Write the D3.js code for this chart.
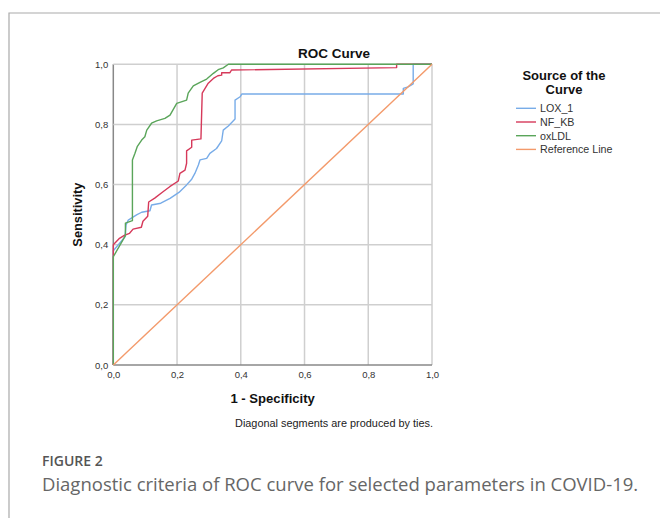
<!DOCTYPE html>
<html><head><meta charset="utf-8">
<script src="https://cdn.jsdelivr.net/npm/d3@7/dist/d3.min.js"></script>
<style>body{margin:0;background:#fff}svg{display:block}</style>
</head><body>
<svg id="c" width="660" height="518"></svg>
<script>
const ticks = [0, 0.2, 0.4, 0.6, 0.8, 1.0];
const seriesNames = ["LOX_1", "NF_KB", "oxLDL", "Reference Line"];
const seriesColors = ["#78ace8", "#d6395a", "#5aa55a", "#f39a6b"];

const lox1Fpr = [0, 0, 0.037, 0.040, 0.047, 0.073, 0.089, 0.115, 0.120, 0.149, 0.178, 0.206, 0.230, 0.246, 0.256, 0.267, 0.272, 0.293, 0.303, 0.324, 0.340, 0.345, 0.361, 0.382, 0.382, 0.398, 0.403, 0.910, 0.910, 0.925, 0.941, 0.941, 1.0];
const lox1Tpr = [0, 0.38, 0.427, 0.466, 0.482, 0.499, 0.508, 0.513, 0.532, 0.538, 0.554, 0.574, 0.599, 0.618, 0.637, 0.665, 0.682, 0.687, 0.704, 0.720, 0.745, 0.781, 0.795, 0.818, 0.881, 0.892, 0.901, 0.901, 0.920, 0.925, 0.935, 1.0, 1.0];

const nfkbFpr = [0, 0, 0.018, 0.036, 0.051, 0.062, 0.088, 0.093, 0.108, 0.111, 0.130, 0.156, 0.177, 0.204, 0.209, 0.225, 0.230, 0.230, 0.246, 0.246, 0.275, 0.279, 0.288, 0.298, 0.314, 0.328, 0.340, 0.340, 0.366, 0.371, 0.889, 0.889, 1.0];
const nfkbTpr = [0, 0.40, 0.42, 0.432, 0.438, 0.452, 0.458, 0.478, 0.495, 0.542, 0.555, 0.576, 0.593, 0.612, 0.637, 0.648, 0.671, 0.712, 0.724, 0.748, 0.752, 0.904, 0.920, 0.937, 0.953, 0.962, 0.964, 0.972, 0.972, 0.981, 0.989, 1.0, 1.0];

const oxldlFpr = [0, 0, 0.038, 0.038, 0.060, 0.060, 0.068, 0.075, 0.089, 0.099, 0.105, 0.120, 0.136, 0.162, 0.178, 0.199, 0.230, 0.235, 0.251, 0.272, 0.293, 0.314, 0.329, 0.345, 0.361, 1.0];
const oxldlTpr = [0, 0.36, 0.43, 0.472, 0.480, 0.682, 0.704, 0.726, 0.748, 0.759, 0.781, 0.804, 0.812, 0.820, 0.831, 0.870, 0.881, 0.904, 0.928, 0.940, 0.951, 0.970, 0.982, 0.988, 1.0, 1.0];

const refFpr = [0, 1];
const refTpr = [0, 1];

const svg = d3.select("#c");
const x = d3.scaleLinear().domain([0, 1]).range([113.3, 432]);
const y = d3.scaleLinear().domain([0, 1]).range([365, 64.3]);
const fmt = v => d3.format(".1f")(v).replace(".", ",");

// frame
svg.append("path").attr("d", "M9,518 V13 H660").attr("fill", "none").attr("stroke", "#aaa").attr("stroke-width", 1.2);

// grid
const g = svg.append("g");
g.selectAll(".gx").data(ticks).join("line")
  .attr("x1", d => x(d)).attr("x2", d => x(d)).attr("y1", y(0)).attr("y2", y(1))
  .attr("stroke", d => d === 0 ? "#888" : "#cfcfcf").attr("stroke-width", 1.5);
g.selectAll(".gy").data(ticks).join("line")
  .attr("y1", d => y(d)).attr("y2", d => y(d)).attr("x1", x(0)).attr("x2", x(1))
  .attr("stroke", d => d === 0 ? "#888" : "#cfcfcf").attr("stroke-width", 1.5);

// axes labels via d3 axes
const xAxis = d3.axisBottom(x).tickValues(ticks).tickFormat(fmt).tickSize(0).tickPadding(6);
const yAxis = d3.axisLeft(y).tickValues(ticks).tickFormat(fmt).tickSize(0).tickPadding(5);
const ax = svg.append("g").attr("transform", `translate(0,${y(0)})`).call(xAxis);
const ay = svg.append("g").attr("transform", `translate(${x(0)},0)`).call(yAxis);
[ax, ay].forEach(a => {
  a.select(".domain").remove();
  a.selectAll("text").attr("font-family", "Liberation Sans, Arial, sans-serif").attr("font-size", 9.5).attr("fill", "#333");
});

// series
const series = [
  {fpr: lox1Fpr, tpr: lox1Tpr},
  {fpr: nfkbFpr, tpr: nfkbTpr},
  {fpr: oxldlFpr, tpr: oxldlTpr},
  {fpr: refFpr, tpr: refTpr}
];
const line = d3.line().x(d => x(d[0])).y(d => y(d[1]));
series.forEach((s, i) => {
  svg.append("path").datum(s.fpr.map((f, j) => [f, s.tpr[j]]))
    .attr("d", line).attr("fill", "none").attr("stroke", seriesColors[i])
    .attr("stroke-width", 1.4).attr("stroke-linejoin", "round");
});

const font = "Liberation Sans, Arial, sans-serif";
svg.append("text").attr("x", 334).attr("y", 58).attr("text-anchor", "middle")
  .attr("font-family", font).attr("font-weight", "bold").attr("font-size", 13.5).attr("fill", "#111").text("ROC Curve");
svg.append("text").attr("transform", `translate(82,${(y(0)+y(1))/2}) rotate(-90)`).attr("text-anchor", "middle")
  .attr("font-family", font).attr("font-weight", "bold").attr("font-size", 12.8).attr("fill", "#111").text("Sensitivity");
svg.append("text").attr("x", (x(0)+x(1))/2).attr("y", 403).attr("text-anchor", "middle")
  .attr("font-family", font).attr("font-weight", "bold").attr("font-size", 13.1).attr("fill", "#111").text("1 - Specificity");
svg.append("text").attr("x", 334).attr("y", 427).attr("text-anchor", "middle")
  .attr("font-family", font).attr("font-size", 10.9).attr("fill", "#222").text("Diagonal segments are produced by ties.");

// legend
svg.append("text").attr("x", 564).attr("y", 80).attr("text-anchor", "middle")
  .attr("font-family", font).attr("font-weight", "bold").attr("font-size", 13).attr("fill", "#111").text("Source of the");
svg.append("text").attr("x", 564).attr("y", 93.5).attr("text-anchor", "middle")
  .attr("font-family", font).attr("font-weight", "bold").attr("font-size", 13).attr("fill", "#111").text("Curve");
const lg = svg.append("g");
seriesNames.forEach((n, i) => {
  const yy = 108.3 + i * 13.7;
  lg.append("line").attr("x1", 516).attr("x2", 536).attr("y1", yy).attr("y2", yy)
    .attr("stroke", seriesColors[i]).attr("stroke-width", 1.4);
  lg.append("text").attr("x", 540).attr("y", yy + 3.8).attr("font-family", font)
    .attr("font-size", 10.7).attr("fill", "#333").text(n);
});

// caption
svg.append("text").attr("x", 42).attr("y", 466).attr("font-family", "Open Sans, sans-serif")
  .attr("font-weight", 600).attr("font-size", 14).attr("fill", "#555").text("FIGURE 2");
svg.append("text").attr("x", 42).attr("y", 491).attr("font-family", "Open Sans, sans-serif")
  .attr("font-size", 18.5).attr("fill", "#666").text("Diagnostic criteria of ROC curve for selected parameters in COVID-19.");
</script>
</body></html>
